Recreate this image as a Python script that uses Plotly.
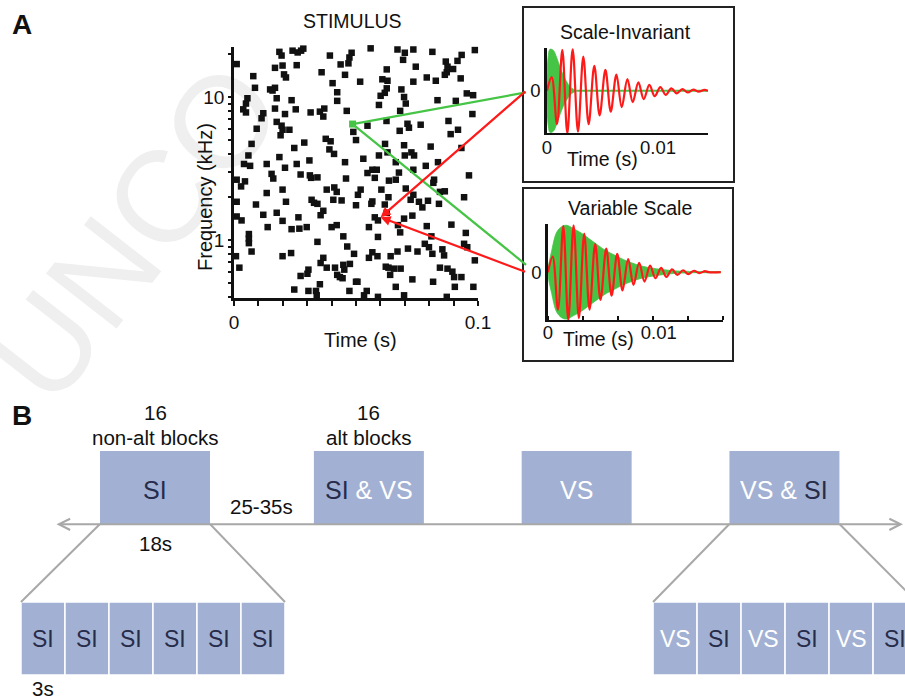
import math
import plotly.graph_objects as go

W, H = 905, 699
FONT = "Liberation Sans, Arial, Helvetica, sans-serif"

# ---------------- Panel A: stimulus raster (time in ms, frequency in kHz) ----------------
stim_time_ms = [
    1.1, 18.6, 19.5, 24.0, 26.1, 27.5, 28.4, 39.3, 48.2, 47.3, 46.9, 16.8, 19.9, 25.7, 20.5, 21.3, 35.9,
    43.7, 45.5, 7.9, 8.6, 14.8, 15.8, 16.8, 40.4, 42.3, 42.3, 5.5, 4.9, 17.5, 23.6, 3.8, 4.9, 12.0, 11.3,
    16.8, 20.9, 25.3, 31.4, 35.2, 37.0, 36.6, 46.2, 17.5, 19.5, 19.9, 19.1, 22.7, 9.3, 48.9, 7.2, 24.7,
    28.8, 37.6, 39.6, 39.1, 41.0, 50.0, 18.6, 5.9, 4.1, 6.6, 13.4, 20.9, 25.7, 30.9, 45.5,
    56.0, 67.0, 70.0, 69.3, 73.5, 81.3, 93.3, 91.6, 98.7, 62.6, 74.5, 86.8, 87.5, 87.2, 86.4, 89.8, 51.7,
    60.8, 62.9, 73.5, 79.0, 82.7, 92.9, 62.6, 61.8, 60.1, 68.6, 69.7, 70.4, 59.4, 68.1, 83.4, 90.9, 95.4,
    98.0, 97.7, 54.7, 62.5, 71.1, 71.7, 67.9, 76.5, 87.9, 88.8, 91.8, 61.9, 62.9, 69.7, 72.7, 73.8, 70.0,
    59.4, 80.6, 93.2, 53.0, 66.3, 78.6, 83.6, 56.7, 58.5, 73.5,
    1.1, 4.5, 2.9, 15.4, 16.1, 27.3, 31.1, 31.6, 34.2, 45.9, 13.4, 19.9, 38.0, 41.1, 42.1, 40.7, 21.3, 1.1,
    9.0, 31.8, 32.8, 34.2, 44.1, 50.0, 36.6, 35.5, 1.1, 3.1, 12.0, 17.5, 19.9, 26.4, 13.8, 23.6, 26.8,
    29.8, 40.0, 42.1, 44.8, 6.1, 6.1, 6.1, 34.2, 46.4, 7.2, 23.4, 19.9, 0.8, 49.2, 36.6, 35.5, 38.0, 41.4,
    44.8, 45.2, 47.5, 2.2, 30.5, 30.1, 27.3, 42.3, 43.4, 44.5, 35.2, 50.0, 24.7, 30.5, 33.6, 33.9, 47.3,
    54.7, 57.7, 63.5, 66.3, 67.6, 82.0, 81.7, 96.3, 51.9, 50.8, 60.4, 70.4, 73.5, 72.4, 84.4, 86.4, 56.7,
    56.3, 61.8, 63.3, 75.8, 79.5, 84.0, 94.3, 62.6, 57.7, 59.0, 55.3, 67.2, 68.1, 69.7, 73.1, 77.2, 79.0,
    89.1, 59.0, 80.9, 95.0, 78.2, 79.9, 81.3, 85.4, 86.1, 95.6, 94.3, 71.3, 75.2, 67.0, 56.7, 58.8, 55.3,
    64.2, 98.7, 62.2, 63.3, 65.6, 68.3, 64.0, 84.4, 87.5, 89.5, 90.2, 93.2, 73.1, 81.6, 50.6, 66.3, 90.5,
    98.1, 54.4, 53.3, 59.0, 69.7, 87.2,
]
stim_freq_khz = [
    17.0, 20.7, 19.5, 21.1, 20.5, 21.1, 21.8, 19.5, 20.4, 18.9, 17.2, 16.0, 16.6, 16.7, 14.4, 13.7, 14.9,
    16.9, 14.3, 14.0, 11.6, 11.3, 11.1, 11.6, 12.5, 10.8, 9.4, 9.8, 9.0, 9.8, 9.5, 8.2, 7.8, 7.7, 7.1,
    8.3, 7.6, 8.2, 7.8, 7.9, 8.3, 7.3, 8.0, 6.7, 6.3, 5.9, 5.4, 5.9, 6.0, 5.7, 4.7, 4.4,
    4.8, 5.1, 4.9, 4.3, 4.0, 5.0, 3.8, 3.9, 3.4, 3.3, 3.4, 3.2, 3.4, 3.6, 3.5,
    21.9, 21.5, 20.4, 18.2, 21.5, 20.7, 19.7, 17.9, 21.3, 15.6, 16.3, 17.7, 16.3, 14.9, 14.3, 15.7, 12.8,
    13.3, 13.0, 12.8, 13.7, 13.0, 13.5, 11.5, 10.7, 10.2, 11.3, 10.0, 9.0, 8.8, 8.0, 9.5, 9.4, 10.6,
    10.3, 7.6, 6.3, 6.8, 6.5, 6.1, 5.8, 6.4, 6.8, 5.5, 5.9, 4.7, 4.1, 4.6, 4.1, 3.9, 3.9,
    3.9, 4.5, 4.4, 3.7, 3.5, 3.3, 3.5, 3.1, 3.1, 3.1,
    2.64, 2.57, 2.37, 2.90, 2.69, 2.87, 2.83, 2.72, 2.74, 2.69, 2.13, 2.25, 2.25, 2.33, 2.17, 1.91, 1.85, 1.85,
    1.77, 1.91, 1.82, 1.79, 1.89, 1.75, 1.60, 1.49, 1.46, 1.37, 1.50, 1.55, 1.36, 1.44, 1.23, 1.19, 1.20,
    1.23, 1.23, 1.27, 1.06, 1.10, 1.02, 0.95, 0.97, 0.90, 0.83, 0.81, 0.77, 0.77, 0.80, 0.75, 0.69, 0.64, 0.64,
    0.67, 0.62, 0.68, 0.64, 0.62, 0.58, 0.56, 0.57, 0.55, 0.54, 0.49, 0.51, 0.45, 0.44, 0.44, 0.41, 0.44,
    2.94, 2.72, 2.60, 2.64, 2.96, 2.64, 2.51, 2.83, 2.25, 2.07, 2.25, 2.29, 2.07, 1.91, 2.17, 2.19, 1.86,
    1.79, 1.77, 1.99, 1.85, 1.88, 1.79, 1.99, 1.55, 1.44, 1.37, 1.23, 1.27, 1.13, 1.41, 1.48, 1.69, 1.25,
    1.28, 1.05, 1.06, 1.12, 0.94, 0.89, 0.80, 0.86, 0.78, 0.89, 0.94, 0.87, 0.83, 0.83, 0.82, 0.77, 0.75,
    0.77, 0.72, 0.65, 0.64, 0.63, 0.63, 0.57, 0.64, 0.63, 0.60, 0.55, 0.55, 0.53, 0.51, 0.51, 0.47, 0.47,
    0.47, 0.44, 0.41, 0.40, 0.41, 0.40,
]
assert len(stim_time_ms) == len(stim_freq_khz)

# highlighted atoms: [green (high), red (low)]
atom_time_ms = [48.6, 60.1]
atom_freq_khz = [6.47, 1.44]

raster_xtick_vals = [0, 0.01, 0.02, 0.03, 0.04, 0.05, 0.06, 0.07, 0.08, 0.09, 0.1]
raster_xtick_text = ["0", "", "", "", "", "", "", "", "", "", "0.1"]
raster_ytick_vals = [0.4, 0.5, 0.6, 0.7, 0.8, 0.9, 1, 2, 3, 4, 5, 6, 7, 8, 9, 10, 20]
raster_ytick_text = ["", "", "", "", "", "", "1", "", "", "", "", "", "", "", "", "10", ""]

# ---------------- Insets: atom waveforms (time ms, normalised amplitude) ----------------
red_t_ms = [0, 0.42, 0.90, 1.38, 1.83, 2.31, 2.79, 3.27, 3.75, 4.26, 4.74, 5.26, 5.74, 6.25, 6.73, 7.24,
            7.72, 8.23, 8.71, 9.22, 9.70, 10.21, 10.69, 11.20, 11.68, 12.19, 12.67, 13.18, 13.66, 14.17, 14.5]
red_amp = [0, 0.33, -0.8, 0.98, -1.02, 1.0, -0.98, 0.82, -0.8, 0.6, -0.59, 0.5, -0.5, 0.39, -0.39, 0.28,
           -0.27, 0.2, -0.2, 0.14, -0.13, 0.09, -0.1, 0.06, -0.06, 0.04, -0.04, 0.03, -0.02, 0.02, 0]
red_tail_vs_ms = 15.6

green_si_t_ms = [0, 0.12, 0.27, 0.57, 0.87, 1.17, 1.47, 1.77, 2.07, 2.37, 2.67]
green_si_env = [0, 0.85, 1.0, 0.97, 0.8, 0.57, 0.37, 0.22, 0.1, 0.04, 0]
green_si_end_ms = 14.5

green_vs_t_ms = [0, 0.33, 0.78, 1.23, 1.68, 2.28, 3.03, 3.78, 4.53, 5.29, 6.04, 6.79, 7.54, 8.29, 9.04,
                 9.79, 10.54, 11.29, 12.04, 12.79]
green_vs_env = [0, 0.45, 0.85, 0.97, 1.0, 0.93, 0.83, 0.7, 0.57, 0.45, 0.36, 0.27, 0.2, 0.14, 0.10,
                0.07, 0.05, 0.03, 0.02, 0.01]
green_vs_end_ms = 15.6

vs_minor_ticks = [0, 0.00316, 0.00632, 0.00948, 0.01264, 0.0158]

# ---------------- Panel B: block design (timeline seconds) ----------------
block_labels = ["SI", "SI & VS", "VS", "VS & SI"]
block_onset_s = [16, 51, 85, 119]
block_dur_s = 18
gap_label = "25-35s"
sub_dur_s = 3
left_sub_labels = ["SI", "SI", "SI", "SI", "SI", "SI"]
right_sub_labels = ["VS", "SI", "VS", "SI", "VS", "SI"]

# ---------------- styles / layout helpers ----------------
GREEN = "#46c446"
RED = "#ff1a1a"
BLOCK = "#a2b1d3"
DARK = "#272c4a"
GRAY = "#a8a8a8"


def px(x):
    return x / W


def py(y):
    return 1 - y / H


def ms(v):
    return [t / 1000 for t in v]


fig = go.Figure()

# raster
fig.add_trace(go.Scatter(x=ms(stim_time_ms), y=stim_freq_khz, mode="markers",
                         marker=dict(symbol="square", size=6.5, color="#111111", line=dict(width=0)),
                         cliponaxis=False, xaxis="x", yaxis="y", hoverinfo="skip"))
fig.add_trace(go.Scatter(x=ms(atom_time_ms[:1]), y=atom_freq_khz[:1], mode="markers",
                         marker=dict(symbol="square", size=7, color=GREEN), xaxis="x", yaxis="y",
                         cliponaxis=False, hoverinfo="skip"))


def env_fill(t, e):
    xs = ms(t) + ms(t[::-1])
    ys = list(e) + [-v for v in e[::-1]]
    return xs, ys


# SI inset
xs, ys = env_fill(green_si_t_ms, green_si_env)
fig.add_trace(go.Scatter(x=xs, y=ys, mode="lines", fill="toself", fillcolor=GREEN,
                         line=dict(color=GREEN, width=0.8, shape="spline"), xaxis="x2", yaxis="y2"))
fig.add_trace(go.Scatter(x=ms([green_si_t_ms[-1], green_si_end_ms]), y=[0, 0], mode="lines",
                         line=dict(color=GREEN, width=2), xaxis="x2", yaxis="y2"))
fig.add_trace(go.Scatter(x=ms(red_t_ms), y=red_amp, mode="lines",
                         line=dict(color=RED, width=2.2, shape="spline"), xaxis="x2", yaxis="y2"))

# VS inset
xs, ys = env_fill(green_vs_t_ms, green_vs_env)
fig.add_trace(go.Scatter(x=xs, y=ys, mode="lines", fill="toself", fillcolor=GREEN,
                         line=dict(color=GREEN, width=0.8, shape="spline"), xaxis="x3", yaxis="y3"))
fig.add_trace(go.Scatter(x=ms([green_vs_t_ms[-1], green_vs_end_ms]), y=[0, 0], mode="lines",
                         line=dict(color=GREEN, width=2), xaxis="x3", yaxis="y3"))
fig.add_trace(go.Scatter(x=ms(red_t_ms + [red_tail_vs_ms]), y=red_amp + [0], mode="lines",
                         line=dict(color=RED, width=2.2, shape="spline"), xaxis="x3", yaxis="y3"))

# Panel B (x4: timeline seconds, y4: vertical canvas units)
ZOOM = 2.4                      # magnification of the expanded rows
LEFT_ROW = 3.07                 # start of expanded rows on the timeline axis
RIGHT_ROW = 106.5
Y_LINE = H - 524.3
Y_TOP_BASE, Y_SUB_BASE, BLOCK_H = H - 524, H - 675, 73
SUB_TOP = Y_SUB_BASE + BLOCK_H


def label_html(lbl):
    out = []
    for p in lbl.split(" "):
        col = DARK if p == "SI" else "#ffffff"
        p = "&amp;" if p == "&" else p
        out.append(f"<span style='color:{col}'>{p}</span>")
    return " ".join(out)


# funnel lines
for onset, row in [(block_onset_s[0], LEFT_ROW), (block_onset_s[3], RIGHT_ROW)]:
    fig.add_trace(go.Scatter(x=[onset, row], y=[Y_TOP_BASE, SUB_TOP], mode="lines",
                             line=dict(color=GRAY, width=2), xaxis="x4", yaxis="y4"))
    fig.add_trace(go.Scatter(x=[onset + block_dur_s, row + block_dur_s * ZOOM], y=[Y_TOP_BASE, SUB_TOP],
                             mode="lines", line=dict(color=GRAY, width=2), xaxis="x4", yaxis="y4"))

fig.add_trace(go.Bar(x=[o + block_dur_s / 2 for o in block_onset_s], y=[BLOCK_H] * len(block_onset_s),
                     base=[Y_TOP_BASE] * len(block_onset_s), width=[block_dur_s] * len(block_onset_s),
                     marker=dict(color=BLOCK, line=dict(width=0)), xaxis="x4", yaxis="y4"))
sw = sub_dur_s * ZOOM
sub_x = [LEFT_ROW + (i + 0.5) * sw for i in range(len(left_sub_labels))] + \
        [RIGHT_ROW + (i + 0.5) * sw for i in range(len(right_sub_labels))]
fig.add_trace(go.Bar(x=sub_x, y=[BLOCK_H] * len(sub_x), base=[Y_SUB_BASE] * len(sub_x), width=[sw] * len(sub_x),
                     marker=dict(color=BLOCK, line=dict(width=1.5, color="#ffffff")), xaxis="x4", yaxis="y4"))

paper_ann = [
    dict(text="<b>A</b>", x=px(22), y=py(25), font=dict(size=28)),
    dict(text="<b>B</b>", x=px(22), y=py(415), font=dict(size=28)),
    dict(text="STIMULUS", x=px(352), y=py(21), font=dict(size=19.5)),
    dict(text="Time (s)", x=px(360), y=py(340), font=dict(size=20)),
    dict(text="Frequency (kHz)", x=px(205), y=py(197), textangle=-90, font=dict(size=20)),
    dict(text="Scale-Invariant", x=px(625), y=py(32), font=dict(size=19.5)),
    dict(text="Variable Scale", x=px(630), y=py(208), font=dict(size=19.5)),
    dict(text="Time (s)", x=px(602), y=py(159), font=dict(size=19.5)),
    dict(text="Time (s)", x=px(598), y=py(339), font=dict(size=19.5)),
]
for a in paper_ann:
    a.update(xref="paper", yref="paper", showarrow=False, xanchor="center", yanchor="middle")

# connecting arrows from the raster atoms to the insets
arrow_ann = []
g_logf = math.log10(atom_freq_khz[0])
r_logf = math.log10(atom_freq_khz[1])
for (t, lf, col, head, dx, dy) in [
    (atom_time_ms[0], g_logf, GREEN, 0, 175, -32),
    (atom_time_ms[0], g_logf, GREEN, 0, 175, 142),
    (atom_time_ms[1], r_logf, RED, 2, 146, -127),
    (atom_time_ms[1], r_logf, RED, 2, 146, 55),
]:
    arrow_ann.append(dict(x=t / 1000, y=lf, xref="x", yref="y", ax=dx, ay=dy, axref="pixel", ayref="pixel",
                          text="", showarrow=True, arrowhead=head, arrowsize=0.9, arrowwidth=2.2,
                          arrowcolor=col, standoff=0, startstandoff=0))

# panel B texts
b_ann = []
bfont = dict(size=20.5, color="#111111")
c1 = block_onset_s[0] + block_dur_s / 2
c2 = block_onset_s[1] + block_dur_s / 2
for c, words in [(c1, "non-alt blocks"), (c2, "alt blocks")]:
    b_ann.append(dict(text="16", x=c, y=H - 412, font=bfont))
    b_ann.append(dict(text=words, x=c, y=H - 437, font=bfont))
b_ann.append(dict(text=gap_label, x=(block_onset_s[0] + block_dur_s + block_onset_s[1]) / 2, y=H - 506, font=bfont))
b_ann.append(dict(text=f"{block_dur_s}s", x=c1, y=H - 543, font=bfont))
b_ann.append(dict(text=f"{sub_dur_s}s", x=LEFT_ROW + sw / 2, y=H - 688, font=bfont))
for o, lbl in zip(block_onset_s, block_labels):
    b_ann.append(dict(text=label_html(lbl), x=o + block_dur_s / 2, y=H - 490, font=dict(size=25, color="#ffffff")))
for x, lbl in zip(sub_x, left_sub_labels + right_sub_labels):
    b_ann.append(dict(text=label_html(lbl), x=x, y=H - 639, font=dict(size=23, color="#ffffff")))
for a in b_ann:
    a.update(xref="x4", yref="y4", showarrow=False, xanchor="center", yanchor="middle")

# double-headed timeline arrow
b_ann.append(dict(x=147.4, y=Y_LINE, ax=8.64, ay=Y_LINE, xref="x4", yref="y4", axref="x4", ayref="y4",
                  text="", showarrow=True, arrowside="end+start", arrowhead=5, startarrowhead=5,
                  arrowsize=1.1, startarrowsize=1.1, arrowwidth=2, arrowcolor=GRAY, standoff=0, startstandoff=0))

shapes = [
    dict(type="rect", xref="paper", yref="paper", x0=px(25), x1=px(225), y0=py(325), y1=py(125),
         line=dict(width=0, color="rgba(0,0,0,0)"), layer="below",
         label=dict(text="UNCO", textangle=-52, textposition="middle center",
                    font=dict(size=130, color="#efefef", family=FONT))),
    dict(type="rect", xref="paper", yref="paper", x0=px(523), x1=px(734), y0=py(182), y1=py(7),
         line=dict(width=2, color="#222222")),
    dict(type="rect", xref="paper", yref="paper", x0=px(523), x1=px(733), y0=py(361), y1=py(188),
         line=dict(width=2, color="#222222")),
]

axis_common = dict(showgrid=False, zeroline=False, showline=True, linecolor="#111111", mirror=False,
                   tickcolor="#111111", fixedrange=True, automargin=False)

fig.update_layout(
    template="none",
    width=W, height=H, autosize=False, margin=dict(l=0, r=0, t=0, b=0, pad=0, autoexpand=False),
    paper_bgcolor="white", plot_bgcolor="rgba(0,0,0,0)", showlegend=False, barmode="overlay",
    font=dict(family=FONT, color="#111111", size=19),
    xaxis=dict(domain=[px(234), px(478)], anchor="y", range=[0, 0.1], tickmode="array",
               tickvals=raster_xtick_vals, ticktext=raster_xtick_text, ticks="outside", ticklen=5,
               tickwidth=2, linewidth=2.5, tickfont=dict(size=19), ticklabelstandoff=0, **axis_common),
    yaxis=dict(domain=[py(298), py(46.7)], anchor="x", type="log", range=[-0.406, 1.352], tickmode="array",
               tickvals=raster_ytick_vals, ticktext=raster_ytick_text, ticks="outside", ticklen=3,
               tickwidth=2, linewidth=2.8, tickfont=dict(size=19), **axis_common),
    xaxis2=dict(domain=[px(547), px(708)], anchor="y2", range=[0, 0.0145], tickmode="array",
                tickvals=[0, 0.01], ticktext=["0", "0.01"], ticks="", linewidth=2, ticklabelstandoff=-4,
                tickfont=dict(size=18.5), **axis_common),
    yaxis2=dict(domain=[py(133.3), py(48.3)], anchor="x2", range=[-1.02, 1.02], tickmode="array",
                tickvals=[0], ticktext=["0"], ticks="", linewidth=2.5, tickfont=dict(size=18.5), **axis_common),
    xaxis3=dict(domain=[px(548), px(723)], anchor="y3", range=[0, 0.0158], tickmode="array",
                tickvals=[0, 0.01], ticktext=["0", "0.01"], ticks="", linewidth=2, ticklabelstandoff=-5,
                minor=dict(tickmode="array", tickvals=vs_minor_ticks, ticks="inside", ticklen=4,
                           tickwidth=1.5, tickcolor="#111111"),
                tickfont=dict(size=18.5), **axis_common),
    yaxis3=dict(domain=[py(320), py(224.3)], anchor="x3", range=[-1.02, 1.02], tickmode="array",
                tickvals=[0], ticktext=["0"], ticks="", linewidth=2.5, tickfont=dict(size=18.5), **axis_common),
    xaxis4=dict(domain=[0, 1], anchor="y4", range=[16 - 100 * block_dur_s / 110, 16 + 805 * block_dur_s / 110],
                visible=False, fixedrange=True, automargin=False),
    yaxis4=dict(domain=[0, 1], anchor="x4", range=[0, H], visible=False, fixedrange=True, automargin=False),
    annotations=paper_ann + arrow_ann + b_ann,
    shapes=shapes,
)

fig.write_html(
    "out.html",
    config={"displayModeBar": False, "responsive": False},
    post_script="document.body.style.margin='0px';document.body.style.overflow='hidden';"
                "document.documentElement.style.overflow='hidden';",
)
